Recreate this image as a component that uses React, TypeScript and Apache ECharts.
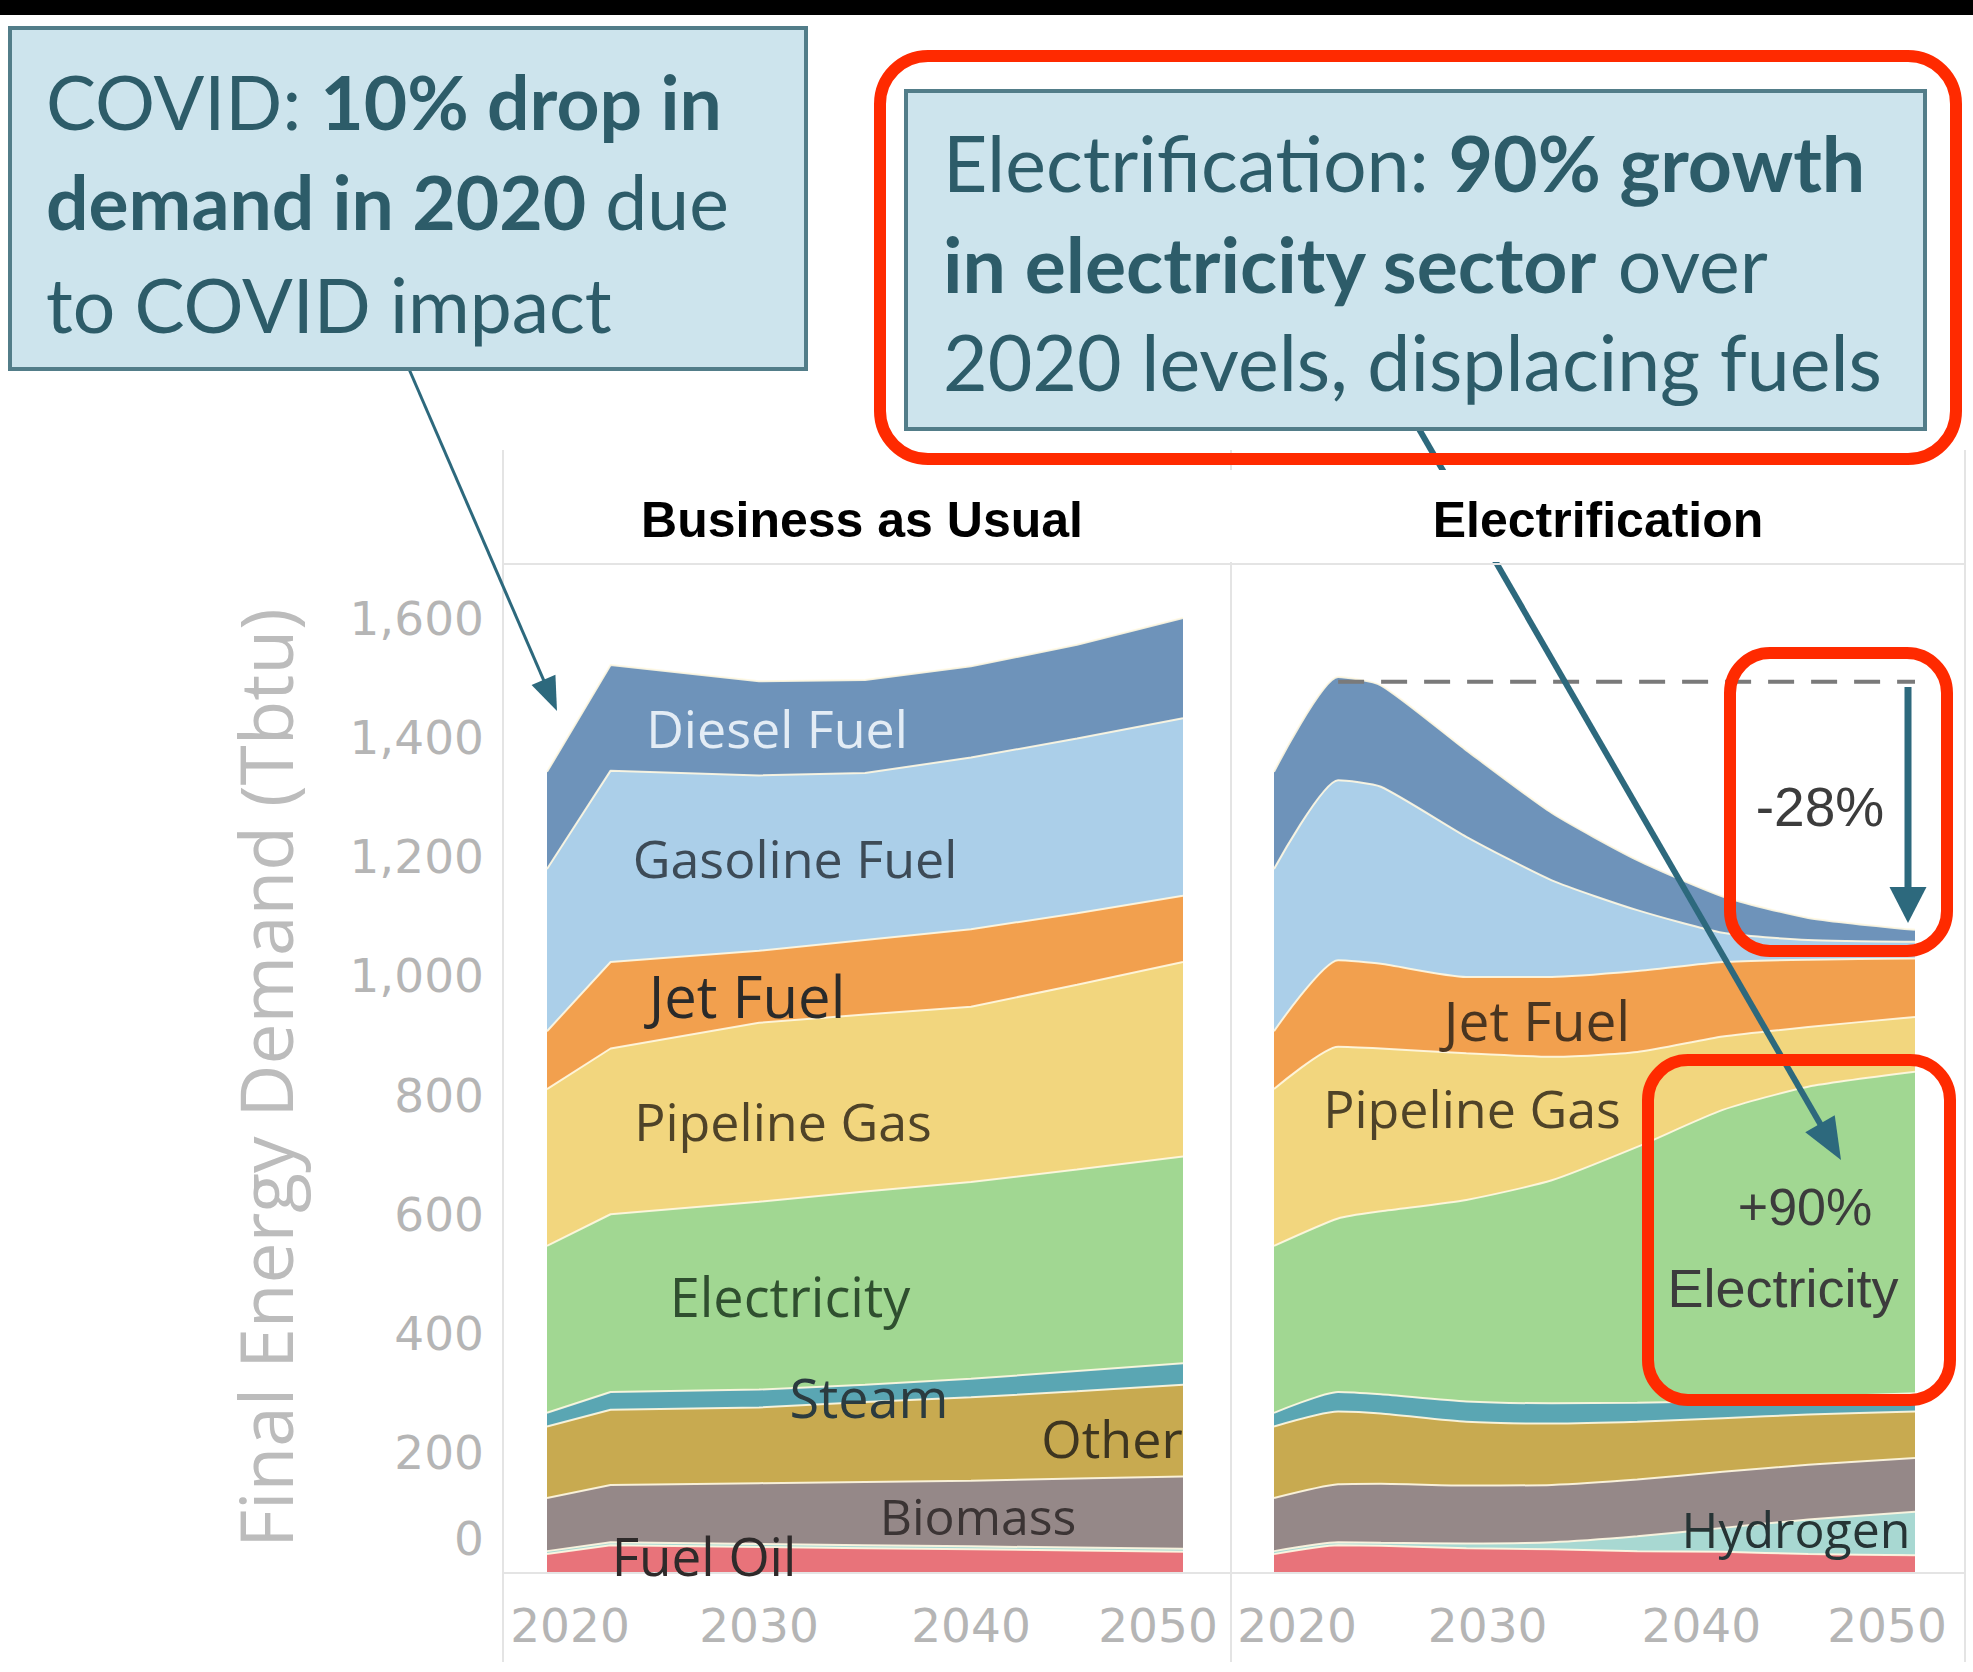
import React, { useEffect, useRef } from 'react';
import * as echarts from 'echarts';

// ---------- DATA ----------
const LAYERS = ['Fuel Oil', 'Hydrogen', 'Biomass', 'Other', 'Steam', 'Electricity', 'Pipeline Gas', 'Jet Fuel', 'Gasoline Fuel', 'Diesel Fuel'];

// Business as Usual (Tbtu)
const YEARS_BAU = [2020, 2023, 2030, 2035, 2040, 2045, 2050];
const BAU_FUEL_OIL = [30, 45, 42, 40, 38, 36, 34];
const BAU_HYDROGEN = [5, 5, 5, 5, 5, 5, 5];
const BAU_BIOMASS = [89, 96, 102, 106, 110, 116, 121];
const BAU_OTHER = [120, 126, 127, 134, 140, 146, 154];
const BAU_STEAM = [23, 30, 30, 29, 31, 34, 36];
const BAU_ELECTRICITY = [280, 298, 315, 324, 330, 338, 347];
const BAU_PIPELINE_GAS = [263, 278, 300, 297, 294, 310, 326];
const BAU_JET_FUEL = [97, 145, 121, 125, 130, 120, 111];
const BAU_GASOLINE = [272, 321, 294, 280, 288, 293, 298];
const BAU_DIESEL = [163, 177, 158, 156, 153, 157, 168];

// Electrification (Tbtu)
const YEARS_ELEC = [2020, 2023, 2025, 2029, 2033, 2037, 2041, 2045, 2050];
const ELEC_FUEL_OIL = [30, 45, 44, 40, 38, 35, 34, 30, 28];
const ELEC_HYDROGEN = [5, 5, 5, 8, 12, 25, 40, 58, 73];
const ELEC_BIOMASS = [89, 97, 99, 97, 96, 95, 94, 92, 90];
const ELEC_OTHER = [120, 122, 118, 107, 103, 97, 90, 84, 78];
const ELEC_STEAM = [23, 33, 32, 34, 34, 32, 29, 29, 31];
const ELEC_ELECTRICITY = [280, 291, 307, 338, 374, 429, 488, 521, 539];
const ELEC_PIPELINE_GAS = [263, 288, 273, 246, 207, 159, 123, 100, 92];
const ELEC_JET_FUEL = [97, 145, 142, 128, 134, 136, 125, 113, 98];
const ELEC_GASOLINE = [272, 302, 297, 235, 162, 102, 49, 33, 28];
const ELEC_DIESEL = [163, 173, 170, 145, 113, 84, 61, 37, 20];

const ELEC_PEAK_YEAR = 2023;
const ELEC_PEAK_TOTAL = 1493;

const X_MIN_YEAR = 2020;
const X_MAX_YEAR = 2050;
const X_TICK_STEP = 10;
const Y_MAX = 1600;
const Y_TICK_STEP = 200;

const BAU_SERIES = [BAU_FUEL_OIL, BAU_HYDROGEN, BAU_BIOMASS, BAU_OTHER, BAU_STEAM, BAU_ELECTRICITY, BAU_PIPELINE_GAS, BAU_JET_FUEL, BAU_GASOLINE, BAU_DIESEL];
const ELEC_SERIES = [ELEC_FUEL_OIL, ELEC_HYDROGEN, ELEC_BIOMASS, ELEC_OTHER, ELEC_STEAM, ELEC_ELECTRICITY, ELEC_PIPELINE_GAS, ELEC_JET_FUEL, ELEC_GASOLINE, ELEC_DIESEL];

// ---------- STYLE ----------
const LAYER_COLORS = ['#e8737a', '#a8d8d2', '#958888', '#c8aa50', '#5aa6b3', '#a1d792', '#f2d67e', '#f2a04e', '#abcfe9', '#6e93ba'];
const SEP = 'rgba(255,248,226,0.9)';
const TEAL = '#2d697d';
const RED = '#ff2a00';
const BOX_FILL = '#cde4ed';
const BOX_STROKE = '#527d89';
const BOX_TEXT = '#2d5c69';
const AXIS_GREY = '#b5b5b5';
const LABEL_FONT = "'Open Sans', sans-serif";
const BOX_FONT = "Lato, sans-serif";
const HEAD_FONT = "'Liberation Sans', Arial, sans-serif";

const yearTime = (y: number) => Date.UTC(y, 0, 1);

function arrow(x1: number, y1: number, x2: number, y2: number, w: number, hl: number, hw: number, color: string, z: number) {
  const dx = x2 - x1, dy = y2 - y1;
  const L = Math.hypot(dx, dy);
  const ux = dx / L, uy = dy / L;
  const px = -uy, py = ux;
  const bx = x2 - ux * hl, by = y2 - uy * hl;
  return [
    { type: 'line', z, silent: true, shape: { x1, y1, x2: bx + ux * 2, y2: by + uy * 2 }, style: { stroke: color, lineWidth: w } },
    { type: 'polygon', z, silent: true, shape: { points: [[x2, y2], [bx + px * hw / 2, by + py * hw / 2], [bx - px * hw / 2, by - py * hw / 2]] }, style: { fill: color } },
  ];
}

function areaLabel(text: string, x: number, y: number, size: number, color: string) {
  return {
    type: 'text', z: 20, silent: true, x, y,
    style: { text, fill: color, fontSize: size, fontFamily: LABEL_FONT, align: 'center', verticalAlign: 'middle' },
  };
}

function boxLine(parts: [string, boolean][], x: number, y: number, size: number) {
  const rich: any = {
    n: { fontSize: size, fontFamily: BOX_FONT, fill: BOX_TEXT, fontWeight: 'normal' },
    b: { fontSize: size, fontFamily: BOX_FONT, fill: BOX_TEXT, fontWeight: 'bold' },
  };
  const text = parts.map(([t, bold]) => `{${bold ? 'b' : 'n'}|${t}}`).join('');
  return {
    type: 'text', z: 30, silent: true, x, y,
    style: { text, rich, align: 'left', verticalAlign: 'middle', fontSize: size, fontFamily: BOX_FONT, fill: BOX_TEXT },
  };
}

function redRect(x: number, y: number, w: number, h: number, r: number) {
  return {
    type: 'rect', z: 40, silent: true,
    shape: { x, y, width: w, height: h, r },
    style: { fill: 'transparent', stroke: RED, lineWidth: 12 },
  };
}

const tickBase = { fontSize: 47, fontFamily: "'DejaVu Sans', sans-serif", color: AXIS_GREY };

// time axis that carries the series (no labels)
function timeAxisCfg(gridIndex: number) {
  return {
    gridIndex, type: 'time', position: 'top', min: yearTime(X_MIN_YEAR), max: yearTime(X_MAX_YEAR),
    axisLine: { show: false }, axisTick: { show: false }, splitLine: { show: false }, axisLabel: { show: false },
  };
}

// value axis in years, used for the tick labels
function yearAxisCfg(gridIndex: number, padL: number, padR: number) {
  return {
    gridIndex, type: 'value', position: 'bottom', min: X_MIN_YEAR, max: X_MAX_YEAR, interval: X_TICK_STEP,
    axisLine: { show: false }, axisTick: { show: false }, splitLine: { show: false },
    axisLabel: {
      margin: 30,
      formatter: (v: number) => (v === X_MIN_YEAR ? `{a|${v}}` : v === X_MAX_YEAR ? `{b|${v}}` : `{c|${v}}`),
      rich: {
        a: { ...tickBase, padding: [0, 0, 0, padL] },
        b: { ...tickBase, padding: [0, padR, 0, 0] },
        c: { ...tickBase },
      },
    },
  };
}

function yAxisCfg(gridIndex: number, showLabels: boolean) {
  return {
    gridIndex, type: 'value', min: 0, max: Y_MAX, interval: Y_TICK_STEP,
    axisLine: { show: false }, axisTick: { show: false }, splitLine: { show: false },
    axisLabel: {
      show: showLabels,
      margin: 63,
      formatter: (v: number) => (v === 0 ? '{z|0}' : `{n|${v.toLocaleString('en-US')}}`),
      rich: {
        z: { ...tickBase, padding: [0, 0, 68, 0] },
        n: { ...tickBase },
      },
    },
  };
}

function buildSeries(years: number[], layers: number[][], idx: number, stack: string) {
  return layers.map((vals, i) => ({
    name: LAYERS[i],
    type: 'line',
    xAxisIndex: idx,
    yAxisIndex: idx,
    stack,
    symbol: 'none',
    smooth: idx === 1 ? 0.2 : false,
    data: years.map((y, j) => [yearTime(y), vals[j]]),
    lineStyle: { color: SEP, width: 2 },
    areaStyle: { color: LAYER_COLORS[i], opacity: 1 },
    itemStyle: { color: LAYER_COLORS[i] },
    silent: true,
  }));
}

export default function App() {
  const ref = useRef<HTMLDivElement>(null);
  useEffect(() => {
    if (!ref.current) return;
    const chart = echarts.init(ref.current, null, { renderer: 'svg' });

    const graphics: any[] = [
      { type: 'rect', z: 1, shape: { x: 0, y: 0, width: 1973, height: 15 }, style: { fill: '#000' } },
      { type: 'line', z: 1, shape: { x1: 503, y1: 450, x2: 503, y2: 1662 }, style: { stroke: '#e4e4e4', lineWidth: 2 } },
      { type: 'line', z: 1, shape: { x1: 1231, y1: 450, x2: 1231, y2: 1662 }, style: { stroke: '#e4e4e4', lineWidth: 2 } },
      { type: 'line', z: 1, shape: { x1: 1965, y1: 450, x2: 1965, y2: 1662 }, style: { stroke: '#e4e4e4', lineWidth: 2 } },
      { type: 'line', z: 1, shape: { x1: 503, y1: 1573, x2: 1965, y2: 1573 }, style: { stroke: '#e4e4e4', lineWidth: 2 } },
      ...arrow(409, 369, 557, 711, 3, 34, 26, TEAL, 25),
      ...arrow(1419, 429, 1841, 1160, 6, 42, 34, TEAL, 25),
      { type: 'rect', z: 26, shape: { x: 505, y: 470, width: 1458, height: 92 }, style: { fill: '#fff' } },
      { type: 'line', z: 27, shape: { x1: 503, y1: 564, x2: 1965, y2: 564 }, style: { stroke: '#e4e4e4', lineWidth: 2 } },
      { type: 'text', z: 28, x: 862, y: 520, style: { text: 'Business as Usual', fontSize: 50, fontWeight: 'bold', fontFamily: HEAD_FONT, fill: '#000', align: 'center', verticalAlign: 'middle' } },
      { type: 'text', z: 28, x: 1598, y: 520, style: { text: 'Electrification', fontSize: 50, fontWeight: 'bold', fontFamily: HEAD_FONT, fill: '#000', align: 'center', verticalAlign: 'middle' } },
      { type: 'text', z: 5, x: 264, y: 1078, rotation: Math.PI / 2, style: { text: 'Final Energy Demand (Tbtu)', fontSize: 73, fontFamily: LABEL_FONT, fill: '#bcbcbc', align: 'center', verticalAlign: 'middle' } },
      { type: 'rect', z: 29, shape: { x: 10, y: 28, width: 796, height: 341 }, style: { fill: BOX_FILL, stroke: BOX_STROKE, lineWidth: 4 } },
      boxLine([['COVID: ', false], ['10% drop in', true]], 46, 101, 75),
      boxLine([['demand in 2020', true], [' due', false]], 46, 201, 75),
      boxLine([['to COVID impact', false]], 46, 304, 75),
      { type: 'rect', z: 29, shape: { x: 906, y: 91, width: 1019, height: 338 }, style: { fill: BOX_FILL, stroke: BOX_STROKE, lineWidth: 4 } },
      boxLine([['Electrification: ', false], ['90% growth', true]], 943, 162, 77),
      boxLine([['in electricity sector', true], [' over', false]], 943, 263, 77),
      boxLine([['2020 levels, displacing fuels', false]], 943, 361, 77),
      redRect(880, 56, 1076, 403, 48),
      redRect(1730, 653, 217, 298, 40),
      redRect(1648, 1060, 302, 340, 40),
      ...arrow(1908, 687, 1908, 923, 7, 36, 37, TEAL, 35),
      { type: 'text', z: 35, x: 1820, y: 807, style: { text: '-28%', fontSize: 55, fontFamily: HEAD_FONT, fill: '#3c3c3c', align: 'center', verticalAlign: 'middle' } },
      { type: 'text', z: 35, x: 1805, y: 1207, style: { text: '+90%', fontSize: 52, fontFamily: HEAD_FONT, fill: '#3c3c3c', align: 'center', verticalAlign: 'middle' } },
      { type: 'text', z: 35, x: 1783, y: 1288, style: { text: 'Electricity', fontSize: 54, fontFamily: HEAD_FONT, fill: '#3c3c3c', align: 'center', verticalAlign: 'middle' } },
      areaLabel('Diesel Fuel', 777, 727, 52, '#e3ecf5'),
      areaLabel('Gasoline Fuel', 795, 857, 52, '#3d4b57'),
      areaLabel('Jet Fuel', 747, 995, 58, '#2a2a2a'),
      areaLabel('Pipeline Gas', 783, 1120, 52, '#4f4328'),
      areaLabel('Electricity', 790, 1296, 54, '#2f4f2f'),
      areaLabel('Steam', 869, 1397, 54, '#2b3b3f'),
      areaLabel('Other', 1112, 1437, 52, '#3d3520'),
      areaLabel('Biomass', 978, 1516, 50, '#3b3434'),
      areaLabel('Fuel Oil', 704, 1555, 53, '#2e2a2a'),
      areaLabel('Jet Fuel', 1537, 1019, 55, '#4a3520'),
      areaLabel('Pipeline Gas', 1472, 1107, 52, '#4f4328'),
      areaLabel('Hydrogen', 1796, 1529, 50, '#263435'),
    ];

    chart.setOption({
      animation: false,
      backgroundColor: '#ffffff',
      grid: [
        { left: 547, top: 618, width: 636, height: 954 },
        { left: 1274, top: 618, width: 641, height: 954 },
      ],
      xAxis: [timeAxisCfg(0), timeAxisCfg(1), yearAxisCfg(0, 46, 50), yearAxisCfg(1, 46, 56)],
      yAxis: [yAxisCfg(0, true), yAxisCfg(1, false)],
      series: [
        ...buildSeries(YEARS_BAU, BAU_SERIES, 0, 'bau'),
        ...buildSeries(YEARS_ELEC, ELEC_SERIES, 1, 'elec'),
        {
          name: 'Peak',
          type: 'line',
          xAxisIndex: 1,
          yAxisIndex: 1,
          symbol: 'none',
          z: 5,
          silent: true,
          data: [[yearTime(ELEC_PEAK_YEAR), ELEC_PEAK_TOTAL], [yearTime(X_MAX_YEAR), ELEC_PEAK_TOTAL]],
          lineStyle: { color: '#7a7a7a', width: 4, type: [26, 17] },
        },
      ],
      graphic: { elements: graphics },
    });

    return () => chart.dispose();
  }, []);

  return <div ref={ref} style={{ position: 'absolute', left: 0, top: 0, width: 1973, height: 1672, background: '#fff' }} />;
}
